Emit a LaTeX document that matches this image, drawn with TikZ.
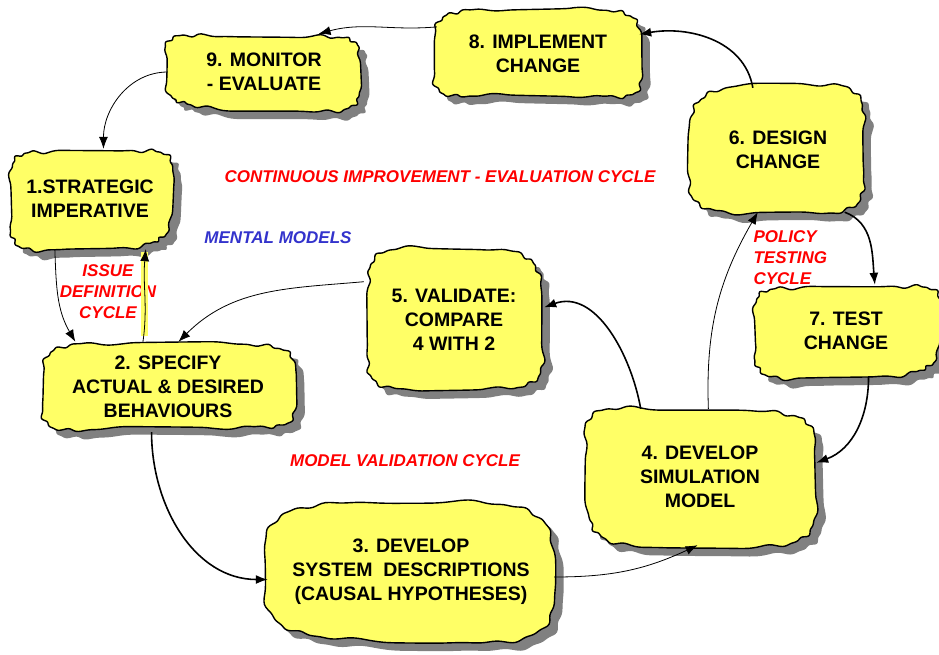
\documentclass[tikz,border=0pt]{standalone}
\usepackage{fontspec}
\setmainfont{Liberation Sans}
\usetikzlibrary{arrows.meta}
\definecolor{blobyellow}{RGB}{255,255,102}
\definecolor{shadowgrey}{RGB}{128,128,128}
\definecolor{cyclered}{RGB}{255,0,0}
\definecolor{modelblue}{RGB}{51,51,204}
\tikzset{
  declare function={wob(\t,\p)=2.8*sin(2*\t+\p)+1.8*sin(3*\t+2*\p)+1.2*sin(13*\t+\p)+0.8*sin(23*\t+3*\p);},
  blob/.style={align=center, inner sep=0pt, font=\fontsize{19.5}{24}\selectfont\bfseries},
  blobline/.style={draw=black, line width=1.4pt, fill=blobyellow, line join=round},
  blobplot/.style={smooth cycle, samples=180, domain=1:359, variable=\t},
  cyclelabel/.style={font=\fontsize{17}{21}\selectfont\bfseries\itshape, align=center, text=cyclered},
  thin arrow/.style={line width=0.8pt, -{Latex[length=12pt,width=9pt]}},
  thick arrow/.style={line width=1.6pt, -{Latex[length=12pt,width=9pt]}},
}
% name, x, y, half width, half height, squareness, wobble phase, text
\newcommand\stepblob[8]{%
  \begin{scope}[shift={(#2,#3)}]
    \fill[shadowgrey] plot[blobplot]
      ({8+#4*sign(cos(\t))*pow(abs(cos(\t)),#6)+wob(\t,#7)*cos(\t)},
       {-8+#5*sign(sin(\t))*pow(abs(sin(\t)),#6)+wob(\t,#7)*sin(\t)});
    \path[blobline] plot[blobplot]
      ({#4*sign(cos(\t))*pow(abs(cos(\t)),#6)+wob(\t,#7)*cos(\t)},
       {#5*sign(sin(\t))*pow(abs(sin(\t)),#6)+wob(\t,#7)*sin(\t)});
  \end{scope}
  \node[blob, minimum width=2*#4, minimum height=2*#5] at (#2,#3) (#1) {#8};
}
\begin{document}
\begin{tikzpicture}[x=1pt,y=1pt]
        \useasboundingbox (0,0) rectangle (939,-654);
        % the nine steps
        \stepblob{strategic}{90}{-199}{80}{50}{0.35}{20}{1.STRATEGIC\\IMPERATIVE}
        \stepblob{specify}{168}{-387}{124}{45}{0.35}{70}{2. SPECIFY\\ACTUAL \& DESIRED\\BEHAVIOURS}
        \stepblob{describe}{411}{-572}{143}{72}{0.5}{130}{3. DEVELOP\\SYSTEM~~DESCRIPTIONS\\(CAUSAL HYPOTHESES)}
        \stepblob{simulate}{700}{-477}{116}{68}{0.35}{200}{4. DEVELOP\\SIMULATION\\MODEL}
        \stepblob{validate}{454}{-320}{90}{68}{0.35}{250}{5. VALIDATE:\\COMPARE\\4 WITH 2}
        \stepblob{design}{778}{-150}{90}{62}{0.4}{300}{6. DESIGN\\CHANGE}
        \stepblob{test}{846}{-331}{92}{46}{0.35}{15}{7. TEST\\CHANGE}
        \stepblob{implement}{538}{-54}{101}{46}{0.35}{95}{8. IMPLEMENT\\CHANGE}
        \stepblob{monitor}{264}{-72}{96}{38}{0.35}{160}{9. MONITOR\\- EVALUATE}
        % cycle names
        \node[cyclelabel] at (440,-177) (improve) {CONTINUOUS IMPROVEMENT - EVALUATION CYCLE};
        \node[cyclelabel, text=modelblue] at (278,-238) (mental) {MENTAL MODELS};
        \node[cyclelabel] at (108,-292) (issue) {ISSUE\\DEFINITION\\CYCLE};
        \node[cyclelabel, align=left, anchor=west] at (750,-258) (policy) {POLICY\\TESTING\\CYCLE};
        \node[cyclelabel] at (405,-461) (validation) {MODEL VALIDATION CYCLE};
        % connectors
        \draw[thin arrow] (implement.165) to[out=185,in=15] (monitor.35);
        \draw[thick arrow] (design.112) to[out=100,in=10] (implement.11);
        \draw[thin arrow] (monitor.west) to[out=180,in=90] (strategic.75);
        \draw[thin arrow] (strategic.235) to[out=-88,in=120] (specify.154);
        \fill[blobyellow] (141,-252) rectangle (148,-336);
        \draw[thin arrow] (specify.119) to[out=82,in=-95] (strategic.-42);
        \draw[thin arrow] (validate.157) to[out=185,in=45] (specify.77);
        \draw[thick arrow] (specify.-110) to[out=-90,in=180] (describe.183);
        \draw[thin arrow] (describe.-2) to[out=0,in=205] (simulate.-92);
        \draw[thick arrow] (simulate.131) to[out=100,in=20] (validate.8);
        \draw[thin arrow] (simulate.83) to[out=92,in=-120] (design.-108);
        \draw[thick arrow] (design.-43) to[out=-20,in=95] (test.58);
        \draw[thick arrow] (test.-64) to[out=-90,in=20] (simulate.7);
      \end{tikzpicture}
\end{document}
